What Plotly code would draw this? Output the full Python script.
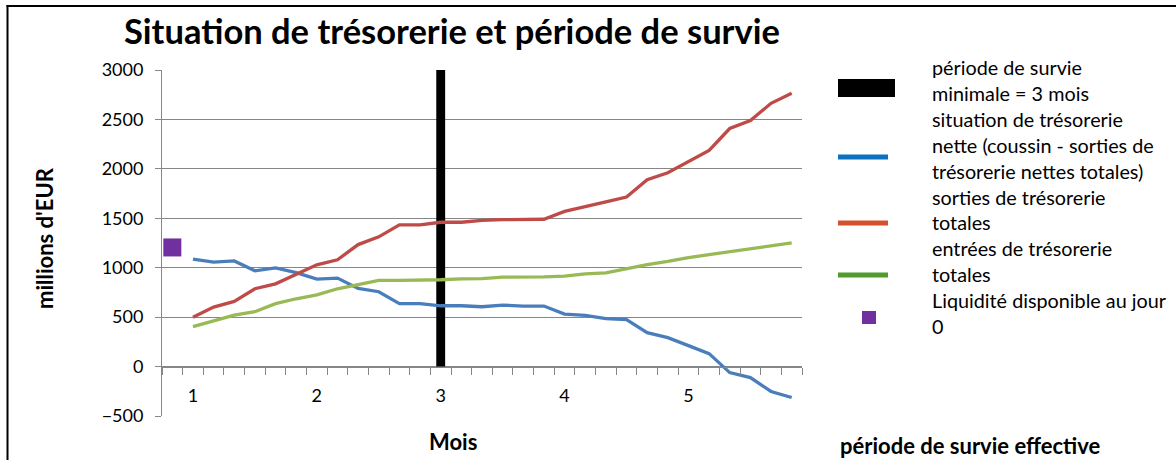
import plotly.graph_objects as go

# chart values
jours = list(range(0, 31))
mois_pos = [1, 7, 13, 19, 25]
mois_lbl = ["1", "2", "3", "4", "5"]

situation_nette = [1086, 1056, 1069, 969, 999, 950, 884, 895, 790, 757,
                   636, 636, 615, 615, 605, 622, 612, 612, 531, 518,
                   484, 474, 343, 293, 212, 131, -61, -111, -252, -313]
sorties_totales = [498, 602, 659, 787, 837, 932, 1029, 1080, 1234, 1312,
                   1433, 1433, 1460, 1460, 1478, 1486, 1490, 1490, 1570, 1614,
                   1665, 1715, 1890, 1961, 2072, 2186, 2408, 2489, 2663, 2764]
entrees_totales = [404, 464, 521, 555, 636, 686, 726, 787, 831, 871,
                   871, 871, 878, 888, 890, 905, 905, 908, 915, 938,
                   948, 989, 1032, 1063, 1103, 1133, 1164, 1190, 1221, 1251]
survie_min_jour = [13]
survie_min_val = [3000]
liquidite_jour = [0]
liquidite_val = [1205]

W, H = 1176, 460
ML, MR, MT, MB = 162, 374, 70, 44
PW, PH = W - ML - MR, H - MT - MB


def px(x):
    return (x - ML) / PW


def py(y):
    return (H - MB - y) / PH


FONT = "Lato"
GRID = "#878787"

fig = go.Figure()

fig.add_trace(go.Bar(
    x=survie_min_jour, y=survie_min_val, width=0.43,
    marker=dict(color="black", line=dict(width=0)),
    name="période de survie minimale = 3 mois"
))
fig.add_trace(go.Scatter(
    x=jours[1:], y=situation_nette, mode="lines",
    line=dict(color="#4A7EBB", width=3.3),
    name="situation de trésorerie nette"
))
fig.add_trace(go.Scatter(
    x=jours[1:], y=sorties_totales, mode="lines",
    line=dict(color="#BE4B48", width=3.3),
    name="sorties de trésorerie totales"
))
fig.add_trace(go.Scatter(
    x=jours[1:], y=entrees_totales, mode="lines",
    line=dict(color="#98B954", width=3.3),
    name="entrées de trésorerie totales"
))
fig.add_trace(go.Scatter(
    x=liquidite_jour, y=liquidite_val, mode="markers",
    marker=dict(symbol="square", size=18, color="#7030A0"),
    name="Liquidité disponible au jour 0"
))

# hand-drawn legend (Excel style)
shapes = []
annos = []
shapes.append(dict(type="rect", xref="paper", yref="paper",
                   x0=px(838), x1=px(895), y0=py(97), y1=py(79),
                   fillcolor="black", line=dict(width=0)))
for yy, col in [(157, "#0A72C0"), (223, "#D5502C"), (275, "#509A2E")]:
    shapes.append(dict(type="line", xref="paper", yref="paper",
                       x0=px(838), x1=px(888), y0=py(yy), y1=py(yy),
                       line=dict(color=col, width=5)))
shapes.append(dict(type="rect", xref="paper", yref="paper",
                   x0=px(862), x1=px(876), y0=py(324), y1=py(311),
                   fillcolor="#7030A0", line=dict(width=0)))

leg_lines = [
    (67, "période de survie"),
    (93, "minimale = 3 mois"),
    (119, "situation de trésorerie"),
    (145, "nette (coussin - sorties de"),
    (171, "trésorerie nettes totales)"),
    (197, "sorties de trésorerie"),
    (222, "totales"),
    (248, "entrées de trésorerie"),
    (274, "totales"),
    (300, "Liquidité disponible au jour"),
    (326, "0"),
]
for yy, txt in leg_lines:
    annos.append(dict(xref="paper", yref="paper", x=px(930), y=py(yy),
                      xanchor="left", yanchor="middle", showarrow=False,
                      text=txt, font=dict(family=FONT, size=19.8, color="black")))

# frame on top and left
shapes.append(dict(type="line", xref="paper", yref="paper",
                   x0=px(6.5), x1=px(W + 5), y0=py(6), y1=py(6),
                   line=dict(color="black", width=2)))
shapes.append(dict(type="line", xref="paper", yref="paper",
                   x0=px(7.5), x1=px(7.5), y0=py(5), y1=py(H + 5),
                   line=dict(color="black", width=2)))

annos.append(dict(xref="paper", yref="paper", x=px(452), y=py(30),
                  xanchor="center", yanchor="middle", showarrow=False,
                  text="<b>Situation de trésorerie et période de survie</b>",
                  font=dict(family=FONT, size=34.5, color="black")))
annos.append(dict(xref="paper", yref="paper", x=px(453), y=py(441),
                  xanchor="center", yanchor="middle", showarrow=False,
                  text="<b>Mois</b>",
                  font=dict(family=FONT, size=22, color="black")))
annos.append(dict(xref="paper", yref="paper", x=px(44), y=py(238),
                  xanchor="center", yanchor="middle", showarrow=False,
                  text="<b>millions d'EUR</b>", textangle=-90,
                  font=dict(family=FONT, size=22, color="black")))
annos.append(dict(xref="paper", yref="paper", x=px(838), y=py(446),
                  xanchor="left", yanchor="middle", showarrow=False,
                  text="<b>période de survie effective</b>",
                  font=dict(family=FONT, size=22, color="black")))

fig.update_layout(
    width=W, height=H,
    margin=dict(l=ML, r=MR, t=MT, b=MB),
    paper_bgcolor="white", plot_bgcolor="white",
    showlegend=False,
    shapes=shapes, annotations=annos,
    xaxis=dict(
        range=[-0.5, 30.5], anchor="free", position=500 / 3500,
        tickmode="array", tickvals=mois_pos, ticktext=mois_lbl,
        ticks="", showgrid=False, zeroline=False,
        showline=True, linecolor=GRID, linewidth=1,
        ticklabelstandoff=13,
        tickfont=dict(family=FONT, size=18, color="black"),
        minor=dict(tickmode="linear", tick0=-0.5, dtick=1, ticks="outside",
                   ticklen=7, tickcolor=GRID, tickwidth=1, showgrid=False),
    ),
    yaxis=dict(
        range=[-500, 3000], tickmode="linear", tick0=-500, dtick=500,
        showgrid=True, gridcolor=GRID, gridwidth=1, zeroline=False,
        showline=True, linecolor=GRID, linewidth=1,
        ticks="outside", ticklen=6, tickcolor=GRID,
        ticklabelstandoff=8,
        tickfont=dict(family=FONT, size=18, color="black"),
    ),
)

fig.write_html("out.html", config={"displayModeBar": False},
               post_script="document.body.style.margin='0';")
